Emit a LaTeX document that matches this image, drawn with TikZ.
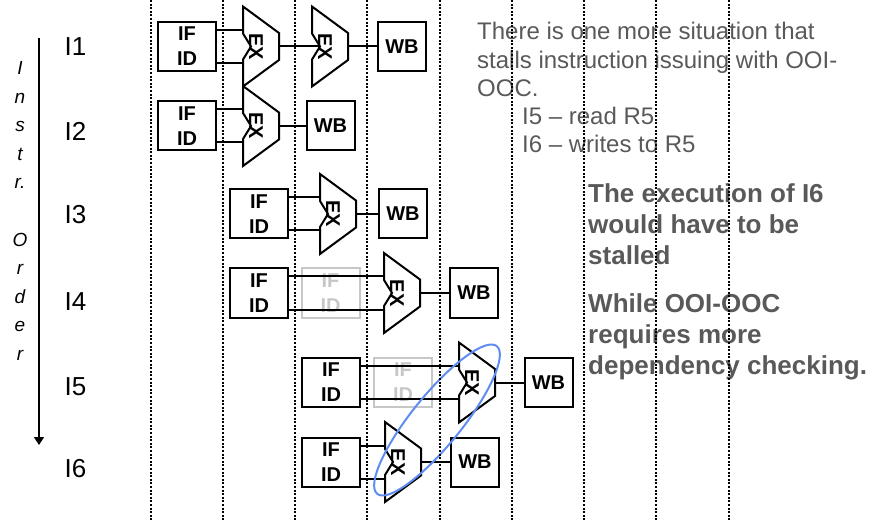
\documentclass[tikz,border=0pt]{standalone}
\usepackage{fontspec}
\setmainfont{Liberation Sans}
\usepackage{tikz}
\usetikzlibrary{arrows.meta,shapes.geometric}
\usepackage{xcolor}
\definecolor{notegray}{HTML}{595959}
\definecolor{ringblue}{RGB}{95,140,240}

\begin{document}
\begin{tikzpicture}[
  x=1pt, y=-1pt,
  stage/.style={draw, line width=2pt, minimum width=58pt, minimum height=49pt, inner sep=0pt, align=center, font=\fontsize{20}{25}\selectfont\bfseries},
  wb/.style={stage, minimum width=48pt},
  ghost/.style={stage, draw=black!22, text=black!22},
  link/.style={line width=2pt},
  clock/.style={line width=2pt, dash pattern=on 2pt off 1.6pt},
  note/.style={align=left, inner sep=0pt, text=notegray, font=\fontsize{24}{28.3}\selectfont},
  claim/.style={align=left, inner sep=0pt, text=notegray, font=\fontsize{26}{31}\selectfont\bfseries},
  instr/.style={inner sep=0pt, font=\fontsize{26}{26}\selectfont},
  exunit/.pic={
    \draw[link] (0,-40) -- (36,-13.5) -- (36,13.5) -- (0,40) -- (0,13) -- (8,0) -- (0,-13) -- cycle;
    \node[rotate=-90, inner sep=0pt, font=\fontsize{20}{20}\selectfont\bfseries] (-lbl) at (13,0) {EX};
    \coordinate (-in) at (8,0);
    \coordinate (-out) at (36,0);
    \coordinate (-up) at (0,-16.5);
    \coordinate (-dn) at (0,16.5);
  }
]
\useasboundingbox (0,0) rectangle (875,521);

% instruction order
\coordinate (ordtop) at (39,38);
\coordinate (ordend) at (39,445);
\draw[line width=1.6pt, -{Triangle[length=8pt, width=10pt]}] (ordtop) -- (ordend);
\node[inner sep=0pt, align=center, font=\fontsize{19}{28.6}\selectfont\itshape] (order) at (20,211) {I\\n\\s\\t\\r.\\[28.6pt]O\\r\\d\\e\\r};

\node[instr] (i1) at (75.5,47) {I1};
\node[instr] (i2) at (75.5,131) {I2};
\node[instr] (i3) at (75.5,214.5) {I3};
\node[instr] (i4) at (75.5,302) {I4};
\node[instr] (i5) at (75.5,387) {I5};
\node[instr] (i6) at (75.5,469) {I6};

% I1
\node[stage] (ifid1) at (187,46.5) {IF\\ID};
\pic (ex1a) at (243,46.5) {exunit};
\pic (ex1b) at (312,46.5) {exunit};
\node[wb] (wb1) at (402,46.5) {WB};
\draw[link] (ifid1.east |- ex1a-up) -- (ex1a-up);
\draw[link] (ifid1.east |- ex1a-dn) -- (ex1a-dn);
\draw[link] (ex1a-out) -- (ex1b-in);
\draw[link] (ex1b-out) -- (wb1);

% I2
\node[stage] (ifid2) at (187,126) {IF\\ID};
\pic (ex2) at (243,126) {exunit};
\node[wb] (wb2) at (330.5,126) {WB};
\draw[link] (ifid2.east |- ex2-up) -- (ex2-up);
\draw[link] (ifid2.east |- ex2-dn) -- (ex2-dn);
\draw[link] (ex2-out) -- (wb2);

% I3
\node[stage] (ifid3) at (259,214) {IF\\ID};
\pic (ex3) at (320,214) {exunit};
\node[wb] (wb3) at (403,214) {WB};
\draw[link] (ifid3.east |- ex3-up) -- (ex3-up);
\draw[link] (ifid3.east |- ex3-dn) -- (ex3-dn);
\draw[link] (ex3-out) -- (wb3);

% I4
\node[stage] (ifid4) at (259,293) {IF\\ID};
\node[ghost] (wait4) at (330.5,293) {IF\\ID};
\pic (ex4) at (384,293) {exunit};
\node[wb] (wb4) at (474,293) {WB};
\draw[link] (ifid4.east |- ex4-up) -- (ex4-up);
\draw[link] (ifid4.east |- ex4-dn) -- (ex4-dn);
\draw[link] (ex4-out) -- (wb4);

% I5
\node[stage] (ifid5) at (331,382.5) {IF\\ID};
\node[ghost] (wait5) at (403,382.5) {IF\\ID};
\pic (ex5) at (459,382.5) {exunit};
\node[wb] (wb5) at (548.5,382.5) {WB};
\draw[link] (ifid5.east |- ex5-up) -- (ex5-up);
\draw[link] (ifid5.east |- ex5-dn) -- (ex5-dn);
\draw[link] (ex5-out) -- (wb5);

% I6
\node[stage] (ifid6) at (331,462) {IF\\ID};
\pic (ex6) at (385,462) {exunit};
\node[wb] (wb6) at (475,462) {WB};
\draw[link] (ifid6.east |- ex6-up) -- (ex6-up);
\draw[link] (ifid6.east |- ex6-dn) -- (ex6-dn);
\draw[link] (ex6-out) -- (wb6);

% hazard between I5 and I6
\node[draw=ringblue, line width=2pt, ellipse, inner sep=0pt, minimum width=190pt, minimum height=50pt, rotate=51] (hazard) at (437,420) {};

% notes (base = last line)
\node[note, anchor=base west] (situation) at (477,153) {There is one more situation that\\stalls instruction issuing with OOI-\\OOC.\\\hspace*{45pt}I5 – read R5\\\hspace*{45pt}I6 – writes to R5};
\node[claim, anchor=base west] (stall) at (588,265) {The execution of I6\\would have to be\\stalled};
\node[claim, anchor=base west] (check) at (588,374) {While OOI-OOC\\requires more\\dependency checking.};

% cycle boundaries
\foreach \i in {0,...,8}
  \draw[clock] ({150.5+72.25*\i},0) -- ({150.5+72.25*\i},521);
\end{tikzpicture}
\end{document}
